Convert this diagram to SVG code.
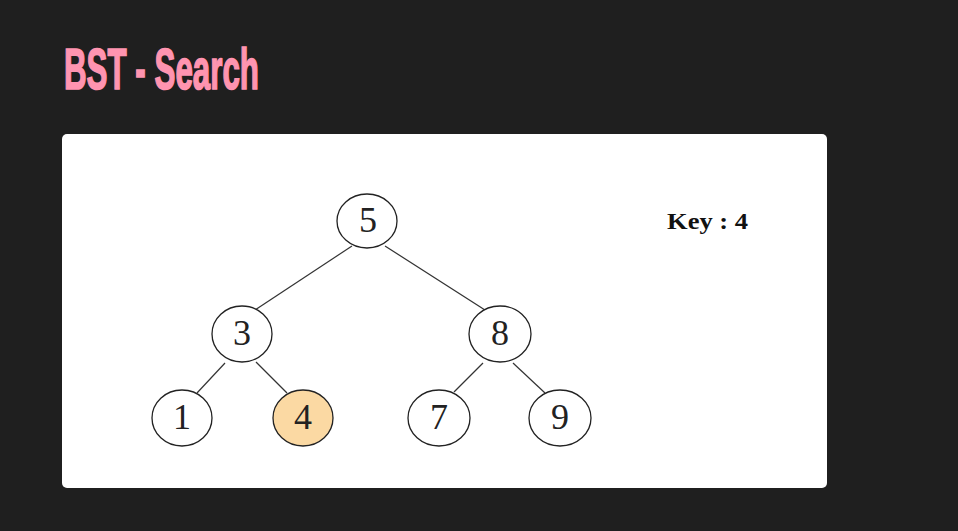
<svg xmlns="http://www.w3.org/2000/svg" width="958" height="531" viewBox="0 0 958 531">
<style>
.node ellipse{fill:#ffffff;stroke:#222;stroke-width:1.3}
.node text{font-family:"Liberation Serif","DejaVu Serif",serif;font-size:36px;fill:#222;text-anchor:middle}
#edges line{stroke:#333;stroke-width:1.2}
</style>
<rect width="958" height="531" fill="#1f1f1f"/>
<text x="64" y="89" font-family="Liberation Sans, Arial, sans-serif" font-weight="bold" font-size="54" fill="#ff94b0" stroke="#ff94b0" stroke-width="1.6" textLength="195" lengthAdjust="spacingAndGlyphs" transform="translate(0,-6) scale(1,1.07)">BST - Search</text>
<rect x="62" y="134" width="765" height="354" rx="5" fill="#ffffff"/>
<g id="edges">
<line x1="352" y1="246" x2="255" y2="310"/>
<line x1="385" y1="246" x2="485" y2="310"/>
<line x1="225" y1="363" x2="197" y2="393"/>
<line x1="256" y1="362" x2="287" y2="393"/>
<line x1="483" y1="363" x2="454" y2="392"/>
<line x1="513" y1="363" x2="545" y2="393"/>
</g>
<g id="n5" class="node"><ellipse cx="367" cy="221" rx="30" ry="27"/><text x="368" y="232">5</text></g>
<g id="n3" class="node"><ellipse cx="242" cy="334" rx="30" ry="28"/><text x="242" y="345">3</text></g>
<g id="n8" class="node"><ellipse cx="500" cy="334" rx="31" ry="28"/><text x="500" y="345">8</text></g>
<g id="n1" class="node"><ellipse cx="182" cy="418" rx="30" ry="28"/><text x="182" y="429">1</text></g>
<g id="n4" class="node"><ellipse cx="303" cy="418" rx="30" ry="28" style="fill:#fbd9a3"/><text x="303" y="429">4</text></g>
<g id="n7" class="node"><ellipse cx="439" cy="418" rx="31" ry="28"/><text x="439" y="429">7</text></g>
<g id="n9" class="node"><ellipse cx="560" cy="418" rx="31" ry="28"/><text x="560" y="429">9</text></g>
<text x="667" y="229" font-family="Liberation Serif, serif" font-weight="bold" font-size="24" fill="#111" textLength="81" lengthAdjust="spacingAndGlyphs">Key : 4</text>
</svg>
